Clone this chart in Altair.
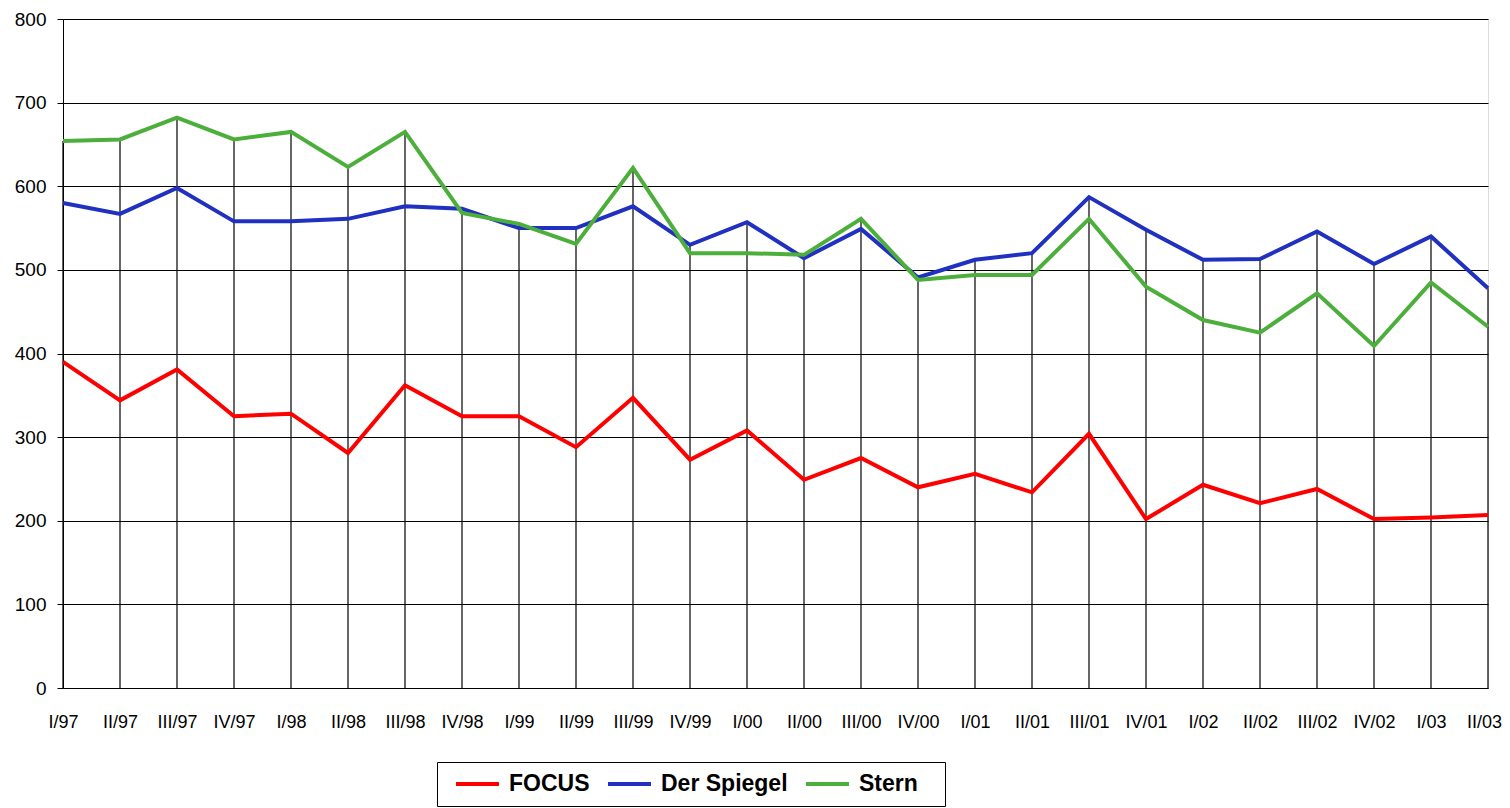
import altair as alt
import pandas as pd

quarters = ["I/97", "II/97", "III/97", "IV/97", "I/98", "II/98", "III/98", "IV/98",
            "I/99", "II/99", "III/99", "IV/99", "I/00", "II/00", "III/00", "IV/00",
            "I/01", "II/01", "III/01", "IV/01", "I/02", "II/02", "III/02", "IV/02",
            "I/03", "II/03"]
focus = [390, 344, 381, 325, 328, 281, 362, 325, 325, 288, 347, 273, 308, 249, 275, 240,
         256, 234, 304, 202, 243, 221, 238, 202, 204, 207]
spiegel = [580, 567, 598, 558, 558, 561, 576, 573, 550, 550, 576, 530, 557, 514, 549, 491,
           512, 520, 587, 548, 512, 513, 546, 507, 540, 478]
stern = [654, 656, 682, 656, 665, 623, 665, 568, 555, 531, 622, 520, 520, 518, 561, 488,
         494, 494, 561, 480, 440, 425, 472, 409, 485, 432]
series_names = ["FOCUS", "Der Spiegel", "Stern"]
series_colors = ["#FF0000", "#2030C0", "#4CAF3C"]

rows = []
for name, vals in zip(series_names, [focus, spiegel, stern]):
    for i, (q, v) in enumerate(zip(quarters, vals)):
        rows.append({"quarter": q, "value": v, "series": name, "order": i})
df = pd.DataFrame(rows)

FONT = "Liberation Sans"
last_q = quarters[-1]

x_enc = alt.X("quarter:N", sort=quarters,
              scale=alt.Scale(type="point", padding=0),
              axis=alt.Axis(title=None, labelAngle=0, ticks=False, domain=True,
                            domainColor="black", labelFont=FONT, labelFontSize=18,
                            labelColor="black", labelPadding=25, grid=False,
                            labelOverlap=False,
                            labelOffset={"condition": {"test": f"datum.value === '{last_q}'",
                                                       "value": -4},
                                         "value": 0}))
y_scale = alt.Scale(domain=[0, 800], nice=False)
y_axis = alt.Axis(title=None, values=list(range(0, 801, 100)), grid=True,
                  gridColor="black", gridWidth=1.2, tickColor="black", tickSize=6,
                  domainColor="black", labelFont=FONT, labelFontSize=19,
                  labelColor="black", labelPadding=11)

base = alt.Chart(df)

drops = base.transform_aggregate(
    maxval="max(value)", groupby=["quarter"]
).transform_calculate(zero="0").mark_rule(color="black", strokeWidth=1.2).encode(
    x=x_enc,
    y=alt.Y("maxval:Q", scale=y_scale, axis=y_axis),
    y2="zero:Q",
)

lines = base.mark_line(strokeWidth=4, strokeJoin="miter").encode(
    x=x_enc,
    y=alt.Y("value:Q", scale=y_scale, axis=y_axis),
    color=alt.Color("series:N", sort=series_names,
                    scale=alt.Scale(domain=series_names, range=series_colors),
                    legend=alt.Legend(title=" ", titleOrient="right", titleFontSize=1,
                                      titlePadding=17,
                                      orient="none", direction="horizontal",
                                      legendX=374, legendY=743,
                                      symbolType="M-0.3,0H4", symbolSize=400,
                                      symbolStrokeWidth=4, labelFont=FONT,
                                      labelFontSize=23, labelFontWeight="bold",
                                      labelColor="black", labelOffset=38,
                                      columnPadding=9, padding=10,
                                      strokeColor="black", fillColor="white")),
    order="order:Q",
    detail="series:N",
)

chart = alt.layer(drops, lines).properties(
    width=1425, height=669,
    autosize=alt.AutoSizeParams(type="none"),
    padding={"left": 55, "top": 11, "right": 14, "bottom": 120},
).configure_view(stroke=None).configure(background="white")

chart.save("out.html", embed_options={"renderer": "svg", "actions": False})
